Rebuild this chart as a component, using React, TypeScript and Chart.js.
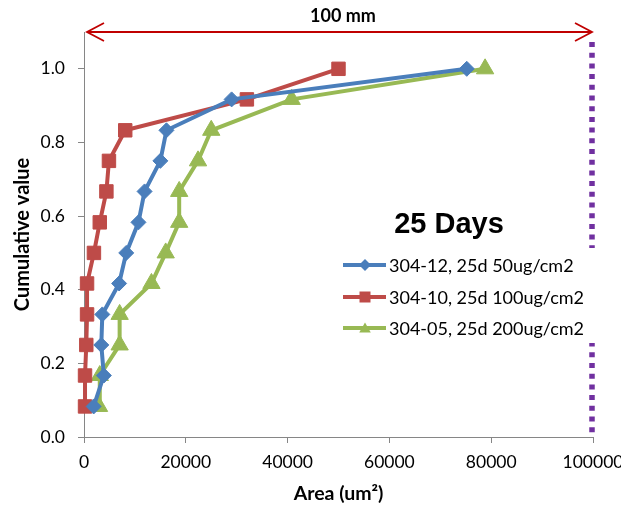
import React, { useEffect, useRef } from 'react';
import { Chart, registerables } from 'chart.js';

Chart.register(...registerables);

// ---- data ----
const cumulative = [0.083, 0.167, 0.25, 0.333, 0.417, 0.5, 0.583, 0.667, 0.75, 0.833, 0.917, 1.0];
const area50 = [1900, 3900, 3400, 3600, 6900, 8300, 10700, 11900, 15000, 16200, 29000, 75200];
const area100 = [200, 200, 450, 600, 600, 1950, 3100, 4400, 4900, 8100, 32000, 50000];
const area200 = [2950, 3100, 7000, 7000, 13250, 16050, 18700, 18700, 22400, 25000, 40800, 78800];
const seriesLabels = ['304-12, 25d 50ug/cm2', '304-10, 25d 100ug/cm2', '304-05, 25d 200ug/cm2'];
const seriesColors = ['#4A7EBB', '#BE4B48', '#98B954'];
const seriesMarkers = ['rectRot', 'rect', 'triangle'];
const xTicks = [0, 20000, 40000, 60000, 80000, 100000];
const yTicks = [0, 0.2, 0.4, 0.6, 0.8, 1.0];
const xTitle = 'Area (um²)';
const yTitle = 'Cumulative value';
const chartNote = '25 Days';
const scaleNote = '100 mm';

const FONT = 'Lato';
const AXIS = '#868686';

function drawMarker(ctx: CanvasRenderingContext2D, kind: string, x: number, y: number, r: number, color: string) {
  ctx.beginPath();
  if (kind === 'rectRot') {
    ctx.moveTo(x - r, y); ctx.lineTo(x, y - r); ctx.lineTo(x + r, y); ctx.lineTo(x, y + r);
  } else if (kind === 'rect') {
    ctx.rect(x - r, y - r, 2 * r, 2 * r);
  } else {
    const h = r * 1.0;
    ctx.moveTo(x, y - h); ctx.lineTo(x + r * 1.05, y + h * 0.8); ctx.lineTo(x - r * 1.05, y + h * 0.8);
  }
  ctx.closePath();
  ctx.fillStyle = color;
  ctx.fill();
}

const overlay = {
  id: 'overlay',
  afterDatasetsDraw(chart: any) {
    const { ctx, chartArea, scales } = chart;
    const xs = scales.x;
    const x0 = xs.getPixelForValue(xTicks[0]);
    const x1 = xs.getPixelForValue(xTicks[xTicks.length - 1]);
    ctx.save();

    // purple dotted boundary line
    ctx.strokeStyle = '#7030A0';
    ctx.lineWidth = 5.5;
    ctx.setLineDash([5, 5.7]);
    ctx.beginPath();
    ctx.moveTo(x1 - 1, chartArea.top + 10);
    ctx.lineTo(x1 - 1, chartArea.bottom);
    ctx.stroke();
    ctx.setLineDash([]);

    // double-headed arrow
    const ay = chartArea.top;
    const ax0 = x0 + 3;
    const ax1 = x1 - 1;
    ctx.strokeStyle = '#C00000';
    ctx.lineWidth = 1.8;
    ctx.beginPath();
    ctx.moveTo(ax0, ay); ctx.lineTo(ax1, ay);
    ctx.moveTo(ax0 + 17, ay - 9); ctx.lineTo(ax0, ay); ctx.lineTo(ax0 + 17, ay + 9);
    ctx.moveTo(ax1 - 17, ay - 9); ctx.lineTo(ax1, ay); ctx.lineTo(ax1 - 17, ay + 9);
    ctx.stroke();

    ctx.fillStyle = '#000';
    ctx.font = `bold 18px ${FONT}`;
    ctx.textAlign = 'center';
    ctx.textBaseline = 'alphabetic';
    ctx.fillText(scaleNote, 343, 22);

    // legend box (white, covers the dotted line)
    ctx.fillStyle = '#ffffff';
    ctx.fillRect(336, 248, 264, 95);

    // "25 Days"
    ctx.fillStyle = '#000';
    ctx.font = 'bold 29px "Liberation Sans"';
    ctx.textAlign = 'center';
    ctx.fillText(chartNote, 449, 233);

    // legend rows
    const rowY = [265, 297, 328];
    ctx.font = `18px ${FONT}`;
    ctx.textAlign = 'left';
    ctx.textBaseline = 'middle';
    seriesLabels.forEach((lab, i) => {
      const y = rowY[i];
      ctx.strokeStyle = seriesColors[i];
      ctx.lineWidth = 4;
      ctx.beginPath();
      ctx.moveTo(343, y); ctx.lineTo(386, y);
      ctx.stroke();
      drawMarker(ctx, seriesMarkers[i], 365, y, i === 0 ? 6 : 5.5, seriesColors[i]);
      ctx.fillStyle = '#000';
      ctx.fillText(lab, 389, y + 1);
    });
    ctx.restore();
  },
};

export default function App() {
  const ref = useRef<HTMLCanvasElement | null>(null);
  useEffect(() => {
    if (!ref.current) return;
    const mk = (vals: number[], i: number, radius: number) => ({
      label: seriesLabels[i],
      data: vals.map((v, k) => ({ x: v, y: cumulative[k] })),
      borderColor: seriesColors[i],
      backgroundColor: seriesColors[i],
      borderWidth: 4,
      pointStyle: seriesMarkers[i],
      pointRadius: radius,
      pointBorderWidth: 1,
      pointBorderColor: seriesColors[i],
      pointBackgroundColor: seriesColors[i],
      tension: 0,
      showLine: true,
      fill: false,
      clip: false,
    });
    const chart = new Chart(ref.current, {
      type: 'scatter',
      data: {
        datasets: [mk(area50, 0, 7.5), mk(area100, 1, 9.5), mk(area200, 2, 10)],
      },
      plugins: [overlay],
      options: {
        animation: false,
        responsive: false,
        devicePixelRatio: 1,
        layout: { padding: { top: 32, right: 28, bottom: 0, left: 0 } },
        plugins: { legend: { display: false }, tooltip: { enabled: false } },
        scales: {
          x: {
            type: 'linear',
            min: 0,
            max: 100000,
            afterBuildTicks: (s: any) => { s.ticks = xTicks.map((v) => ({ value: v })); },
            afterFit: (s: any) => { s.height = 70; s.paddingLeft = 0; s.paddingRight = 0; },
            ticks: {
              color: '#000',
              font: { family: FONT, size: 17.5 },
              padding: 9,
              maxRotation: 0,
              autoSkip: false,
              callback: (v: any) => String(v),
            },
            grid: { display: true, drawOnChartArea: false, drawTicks: true, tickLength: 6, color: AXIS },
            border: { display: true, color: AXIS, width: 1 },
            title: {
              display: true,
              text: xTitle,
              color: '#000',
              font: { family: FONT, size: 19.5, weight: 'bold' },
              padding: { top: 0, bottom: 1.5 },
            },
          },
          y: {
            type: 'linear',
            min: 0,
            max: 1.1,
            afterBuildTicks: (s: any) => { s.ticks = yTicks.map((v) => ({ value: v })); },
            afterFit: (s: any) => { s.width = 84; s.paddingTop = 0; s.paddingBottom = 0; },
            ticks: {
              color: '#000',
              font: { family: FONT, size: 17.5 },
              padding: 13,
              callback: (v: any) => Number(v).toFixed(1),
            },
            grid: { display: true, drawOnChartArea: false, drawTicks: true, tickLength: 6, color: AXIS },
            border: { display: true, color: AXIS, width: 1 },
            title: {
              display: true,
              text: yTitle,
              color: '#000',
              font: { family: FONT, size: 20, weight: 'bold' },
              padding: { top: 11, bottom: 0 },
            },
          },
        },
      },
    } as any);
    return () => chart.destroy();
  }, []);
  return (
    <div style={{ position: 'absolute', left: 0, top: 0, width: 621, height: 507, background: '#fff' }}>
      <canvas ref={ref} width={621} height={507} style={{ display: 'block', width: 621, height: 507 }} />
    </div>
  );
}
